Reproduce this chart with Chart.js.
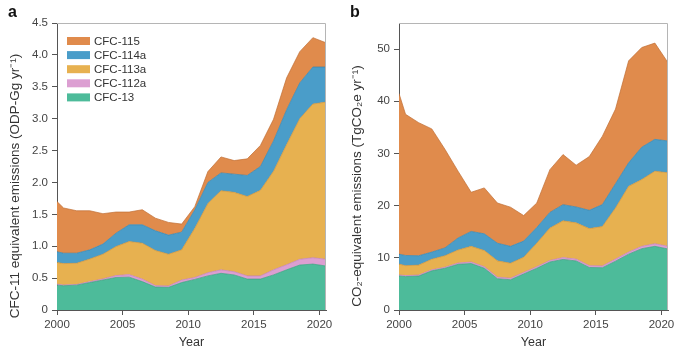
<!DOCTYPE html>
<html>
<head>
<meta charset="utf-8">
<script src="https://cdn.jsdelivr.net/npm/chart.js@4"></script>
<style>
  body { margin: 0; background: #fff; }
  .panel { position: absolute; top: 0; }
</style>
</head>
<body>
<canvas id="chart_a" class="panel" style="left:0px" width="340" height="354"></canvas>
<canvas id="chart_b" class="panel" style="left:340px" width="340" height="354"></canvas>
<script>
// x positions: left edge of the plot, then mid-year points 2000.5 ... 2020.5
let year_pos = [2000, 2000.5, 2001.5, 2002.5, 2003.5, 2004.5, 2005.5, 2006.5, 2007.5, 2008.5, 2009.5,
    2010.5, 2011.5, 2012.5, 2013.5, 2014.5, 2015.5, 2016.5, 2017.5, 2018.5, 2019.5, 2020.5];
let x_ticks = [2000, 2005, 2010, 2015, 2020];

let species = ["CFC-13", "CFC-112a", "CFC-113a", "CFC-114a", "CFC-115"];
let colors = ["#4dbb9a", "#dc9fd2", "#e7b150", "#4a9dc9", "#e08b4c"];
let edges = ["#3f9c80", "#c07fb6", "#c98f3a", "#3a82a9", "#c06f35"];

// panel a, ODP-Gg / yr (each species, stacked)
let odp_cfc13 = [0.39, 0.38, 0.39, 0.43, 0.47, 0.51, 0.515, 0.445, 0.36, 0.355, 0.43, 0.48, 0.535, 0.575, 0.55, 0.485, 0.485, 0.55, 0.63, 0.705, 0.72, 0.69];
let odp_cfc112a = [0.015, 0.012, 0.01, 0.015, 0.018, 0.03, 0.04, 0.04, 0.022, 0.022, 0.04, 0.03, 0.05, 0.055, 0.05, 0.05, 0.05, 0.08, 0.08, 0.09, 0.1, 0.105];
let odp_cfc113a = [0.34, 0.336, 0.333, 0.355, 0.387, 0.455, 0.519, 0.563, 0.551, 0.498, 0.473, 0.77, 1.085, 1.24, 1.245, 1.245, 1.341, 1.545, 1.884, 2.205, 2.41, 2.465];
let odp_cfc114a = [0.168, 0.163, 0.158, 0.143, 0.158, 0.21, 0.262, 0.288, 0.309, 0.299, 0.278, 0.29, 0.33, 0.28, 0.285, 0.33, 0.374, 0.475, 0.546, 0.56, 0.58, 0.55];
let odp_cfc115 = [0.788, 0.709, 0.665, 0.613, 0.477, 0.331, 0.2, 0.236, 0.198, 0.199, 0.126, 0.05, 0.17, 0.25, 0.213, 0.26, 0.33, 0.34, 0.5, 0.49, 0.46, 0.38];
let odp_ticks = [0, 0.5, 1, 1.5, 2, 2.5, 3, 3.5, 4, 4.5];

// panel b, TgCO2e / yr
let co2_cfc13 = [6.53, 6.4, 6.5, 7.5, 8.0, 8.75, 8.9, 8.0, 6.0, 5.8, 6.9, 8.0, 9.2, 9.7, 9.4, 8.15, 8.1, 9.35, 10.7, 11.75, 12.2, 11.7];
let co2_cfc112a = [0.2, 0.2, 0.2, 0.2, 0.2, 0.25, 0.3, 0.3, 0.3, 0.3, 0.3, 0.3, 0.3, 0.35, 0.35, 0.35, 0.35, 0.4, 0.4, 0.45, 0.5, 0.5];
let co2_cfc113a = [2.07, 1.9, 1.9, 2.04, 2.2, 2.5, 3.0, 3.1, 3.12, 2.87, 2.9, 4.5, 6.2, 7.04, 6.95, 7.1, 7.55, 9.8, 12.6, 12.8, 13.9, 14.1];
let co2_cfc114a = [1.9, 1.95, 1.8, 1.36, 1.5, 2.3, 2.86, 3.2, 3.38, 3.23, 3.1, 3.0, 3.0, 3.1, 3.05, 3.5, 4.2, 4.65, 4.5, 6.2, 6.1, 6.1];
let co2_cfc115 = [30.8, 27.05, 25.5, 23.6, 18.9, 12.8, 7.5, 8.8, 7.7, 7.5, 4.9, 4.7, 8.2, 9.6, 8.0, 10.3, 13.1, 14.3, 19.55, 19.1, 18.45, 15.0];
let co2_ticks = [0, 10, 20, 30, 40, 50];

const FONT = "'Liberation Sans', Arial, sans-serif";

function make_sets(series) {
    let sets = [];
    for (let i = 0; i < series.length; i++) {
        sets.push({
            label: species[i],
            data: series[i].map((v, k) => ({x: year_pos[k], y: v})),
            backgroundColor: colors[i],
            borderColor: edges[i],
            borderWidth: 0.7,
            pointRadius: 0,
            tension: 0,
            fill: i == 0 ? "origin" : "-1"
        });
    }
    return sets;
}

// frame, panel letter, rotated y title, optional legend
let extras = {
    id: "extras",
    afterDraw(chart) {
        let o = chart.options.plugins.extras;
        let ctx = chart.ctx;
        let a = chart.chartArea;
        ctx.save();
        ctx.strokeStyle = "#b5b5b5";
        ctx.lineWidth = 1;
        ctx.beginPath();
        ctx.moveTo(a.left, a.top + 0.5);
        ctx.lineTo(a.right - 0.5, a.top + 0.5);
        ctx.lineTo(a.right - 0.5, a.bottom);
        ctx.stroke();

        ctx.fillStyle = "#111";
        ctx.font = "bold 16px " + FONT;
        ctx.textBaseline = "alphabetic";
        ctx.textAlign = "left";
        ctx.fillText(o.letter, o.letterX, 17);

        ctx.fillStyle = "#333";
        ctx.font = "13.5px " + FONT;
        ctx.translate(o.titleX, 186);
        ctx.rotate(-Math.PI / 2);
        ctx.textAlign = "center";
        ctx.textBaseline = "middle";
        ctx.fillText(o.title, 0, 0);
        ctx.restore();

        if (o.legend) {
            ctx.save();
            ctx.font = "11.5px " + FONT;
            ctx.textBaseline = "middle";
            ctx.textAlign = "left";
            let ds = chart.data.datasets;
            for (let i = 0; i < ds.length; i++) {
                let row = ds.length - 1 - i;
                let y = 41 + row * 14.1;
                ctx.fillStyle = ds[i].backgroundColor;
                ctx.fillRect(67, y - 4, 23, 8);
                ctx.fillStyle = "#333";
                ctx.fillText(ds[i].label, 94, y + 0.5);
            }
            ctx.restore();
        }
    }
};

function print_chart(id, series, y_max, y_ticks, y_fmt, y_width, pad_right, extra) {
    let canvas = document.getElementById(id);
    return new Chart(canvas, {
        type: "line",
        data: {datasets: make_sets(series)},
        options: {
            responsive: false,
            animation: false,
            devicePixelRatio: 1,
            layout: {padding: {top: 23, right: pad_right, left: 0, bottom: 0}},
            plugins: {legend: {display: false}, tooltip: {enabled: false}, extras: extra},
            scales: {
                x: {
                    type: "linear",
                    min: 2000,
                    max: 2020.5,
                    afterBuildTicks: s => { s.ticks = x_ticks.map(v => ({value: v})); },
                    afterFit: s => { s.height = 44; },
                    grid: {drawOnChartArea: false, tickLength: 5, color: "#555"},
                    border: {color: "#555"},
                    ticks: {color: "#444", font: {family: FONT, size: 11.5}, padding: 3, maxRotation: 0,
                        callback: v => String(v)},
                    title: {display: true, text: "Year", color: "#333", font: {family: FONT, size: 12.5},
                        padding: {top: 0, bottom: 4}}
                },
                y: {
                    stacked: true,
                    min: 0,
                    max: y_max,
                    afterBuildTicks: s => { s.ticks = y_ticks.map(v => ({value: v})); },
                    afterFit: s => { s.width = y_width; },
                    grid: {drawOnChartArea: false, tickLength: 5, color: "#555"},
                    border: {color: "#555"},
                    ticks: {color: "#444", font: {family: FONT, size: 11.5}, padding: 4, callback: y_fmt}
                }
            }
        },
        plugins: [extras]
    });
}

print_chart("chart_a", [odp_cfc13, odp_cfc112a, odp_cfc113a, odp_cfc114a, odp_cfc115], 4.5, odp_ticks,
    v => v == 0 ? "0" : v.toFixed(1), 57, 14,
    {letter: "a", letterX: 8, title: "CFC-11 equivalent emissions (ODP-Gg yr\u207B\u00B9)", titleX: 15, legend: true});

print_chart("chart_b", [co2_cfc13, co2_cfc112a, co2_cfc113a, co2_cfc114a, co2_cfc115], 55, co2_ticks,
    v => String(v), 59, 12,
    {letter: "b", letterX: 10, title: "CO\u2082-equivalent emissions (TgCO\u2082e yr\u207B\u00B9)", titleX: 17, legend: false});
</script>
</body>
</html>
